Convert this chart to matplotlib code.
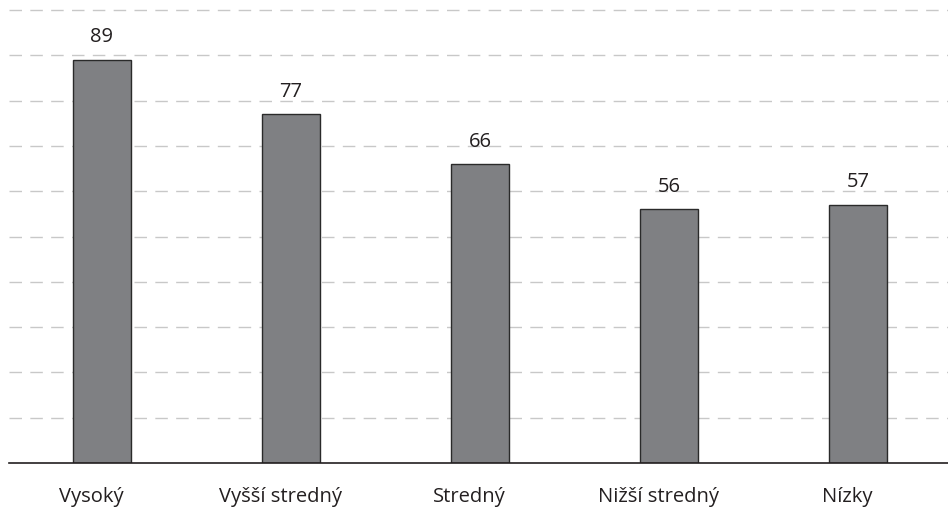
import matplotlib
matplotlib.use("Agg")
from matplotlib import pyplot as plt
from matplotlib.transforms import ScaledTranslation

# Data
categories = ["Vysoký", "Vyšší stredný", "Stredný", "Nižší stredný", "Nízky"]
values = [89, 77, 66, 56, 57]
grid_levels = [10, 20, 30, 40, 50, 60, 70, 80, 90, 100]

plt.rcParams['font.family'] = ['Open Sans', 'DejaVu Sans']

fig = plt.figure(figsize=(9.48, 5.09), dpi=100)
# axes placed in pixels: left 9, baseline at y=463 from top
ax = fig.add_axes([9/948, (509-463)/509, (948-9)/948, (463-5.5)/509])

x = range(len(categories))
ax.bar(x, values, width=0.307, color="#7f8083", edgecolor="#2a2a2a", linewidth=1, zorder=3)

for lvl in grid_levels:
    ax.axhline(lvl, color="#c8c8c8", linestyle=(0, (9, 6)), linewidth=1, zorder=1)

for xi, v in zip(x, values):
    ax.annotate(str(v), (xi, v), xytext=(0, 9), textcoords="offset points",
                ha="center", va="bottom", fontsize=14.5, color="#231f20")

ax.set_xlim(-0.492, 4.476)
ax.set_ylim(0, 101)
ax.set_xticks(list(x))
ax.set_xticklabels(categories, fontsize=14.5, color="#231f20")
ax.tick_params(axis="x", length=0, pad=17)
ax.set_yticks([])

# labels in the original sit a little left of the bar centres
shift = ScaledTranslation(-11/100, 0, fig.dpi_scale_trans)
for lab in ax.get_xticklabels():
    lab.set_transform(lab.get_transform() + shift)

for s in ["top", "right", "left"]:
    ax.spines[s].set_visible(False)
ax.spines["bottom"].set_color("#231f20")
ax.spines["bottom"].set_linewidth(1.2)
ax.spines["bottom"].set_zorder(4)

fig.savefig("out.png", dpi=100)
